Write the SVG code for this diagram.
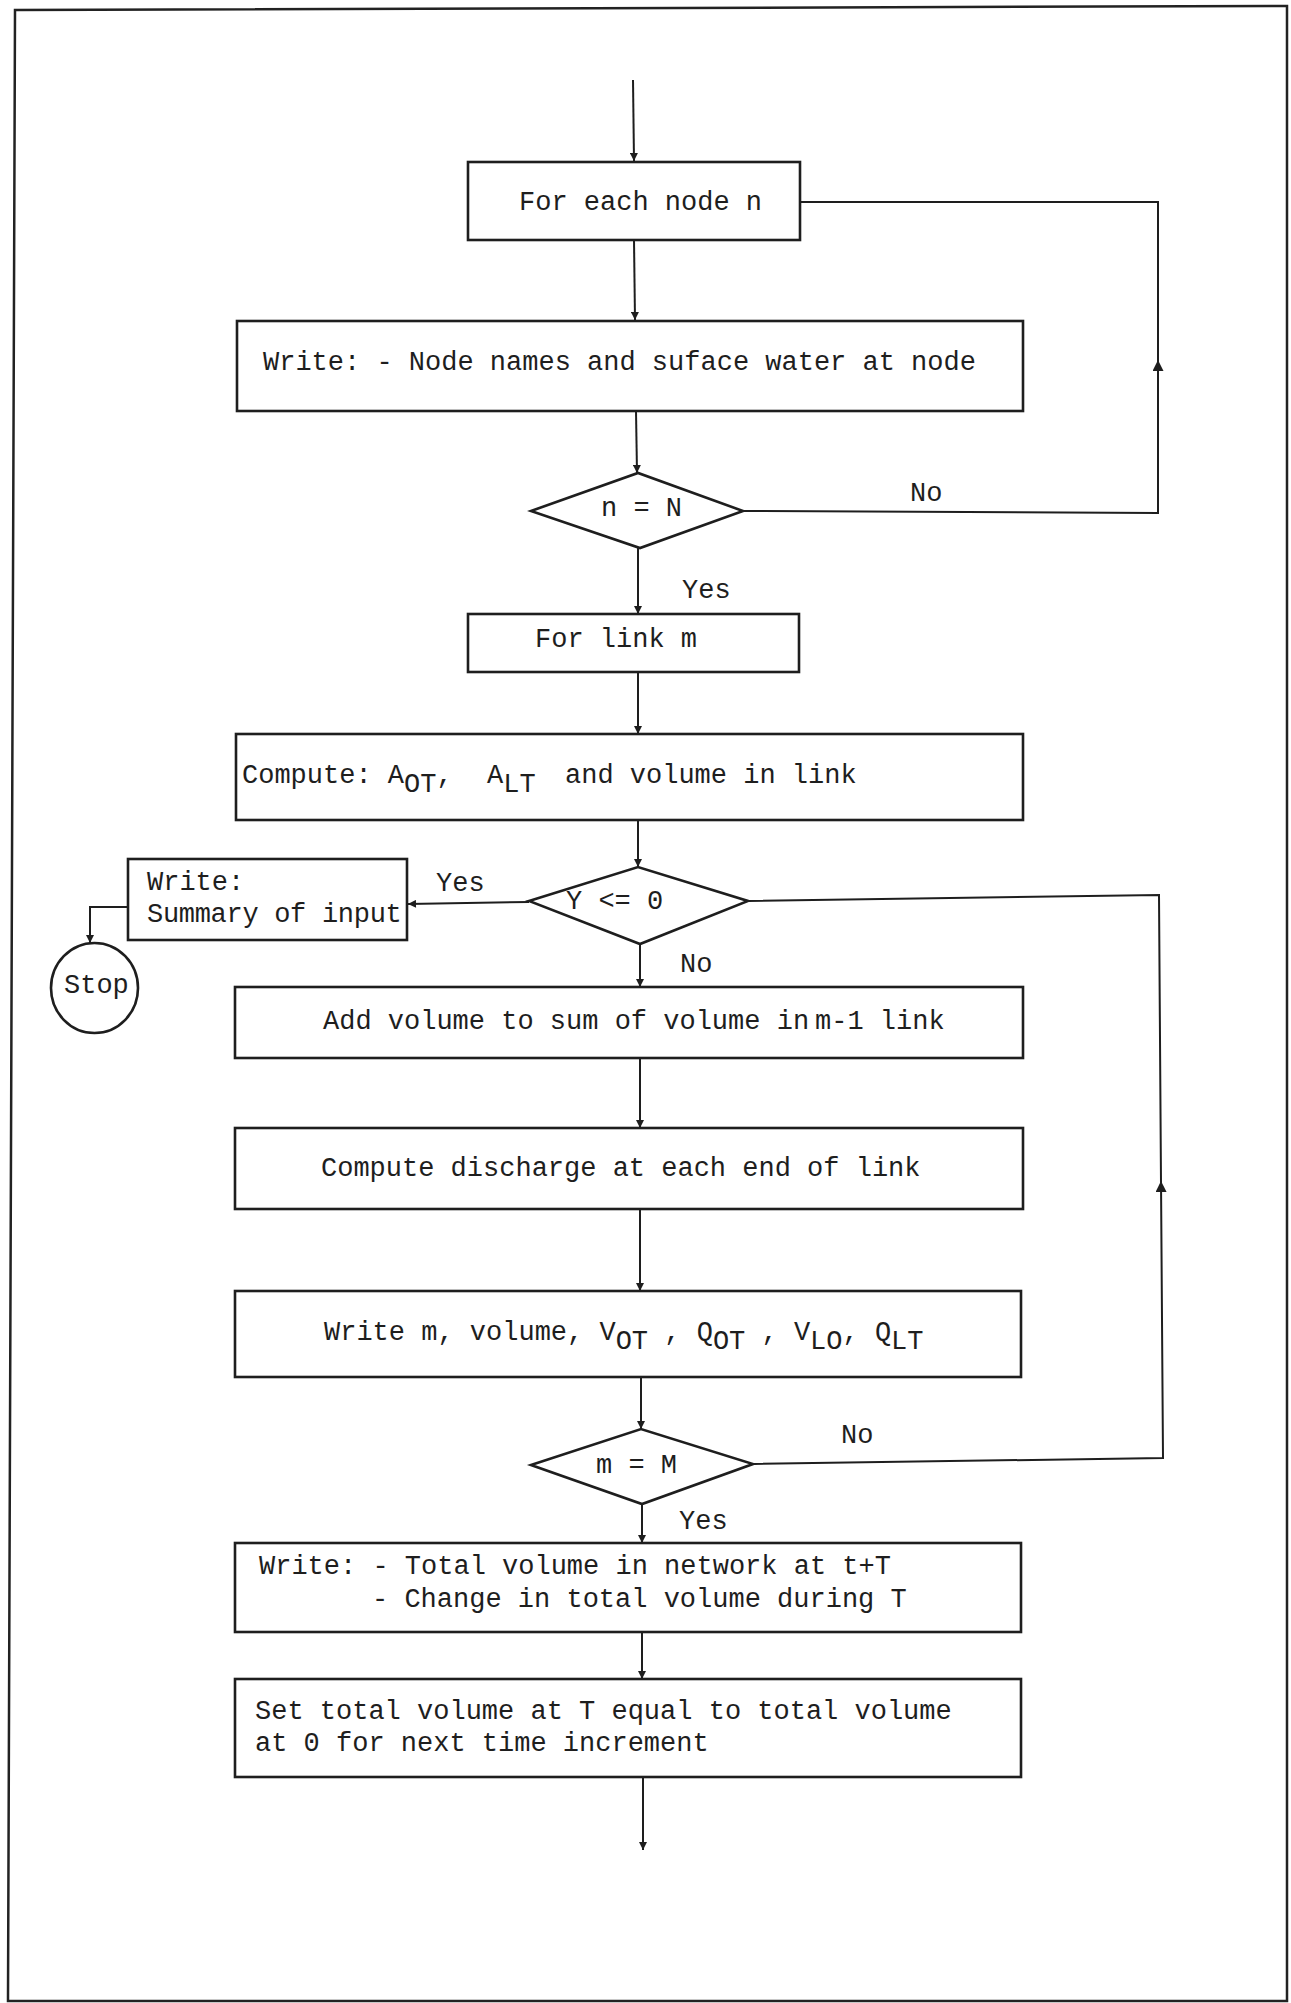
<svg xmlns="http://www.w3.org/2000/svg" width="1291" height="2003" viewBox="0 0 1291 2003">
  <style>
    .frame { fill: none; stroke: #222; stroke-width: 2.5; }
    .box { fill: none; stroke: #1e1e1e; stroke-width: 2.6; }
    .line { fill: none; stroke: #1e1e1e; stroke-width: 2; }
    .txt { font-family: "Liberation Mono", "DejaVu Sans Mono", monospace; font-size: 27px; fill: #1e1e1e; }
  </style>
  <defs>
    <marker id="ah" viewBox="0 0 10 10" refX="10" refY="5" markerUnits="userSpaceOnUse" markerWidth="11" markerHeight="8" orient="auto">
      <path d="M0,0 L10,5 L0,10 z" fill="#1e1e1e"/>
    </marker>
    <marker id="ahBig" viewBox="0 0 10 10" refX="10" refY="5" markerUnits="userSpaceOnUse" markerWidth="18" markerHeight="11" orient="auto">
      <path d="M0,0 L10,5 L0,10 z" fill="#1e1e1e"/>
    </marker>
  </defs>

  <rect width="1291" height="2003" fill="#ffffff"/>

  <!-- page frame -->
  <path class="frame" d="M15,10 L1287,6 L1287,2001 L8,2001 Z"/>

  <!-- connectors -->
  <g id="connectors">
    <path class="line" d="M633,80 L634,161" marker-end="url(#ah)"/>
    <path class="line" d="M634,240 L635,320" marker-end="url(#ah)"/>
    <path class="line" d="M636,411 L637,473" marker-end="url(#ah)"/>
    <path class="line" d="M638,548 L638,614" marker-end="url(#ah)"/>
    <path class="line" d="M638,672 L638,734" marker-end="url(#ah)"/>
    <path class="line" d="M638,820 L638,867" marker-end="url(#ah)"/>
    <path class="line" d="M640,944 L640,987" marker-end="url(#ah)"/>
    <path class="line" d="M640,1058 L640,1128" marker-end="url(#ah)"/>
    <path class="line" d="M640,1209 L640,1291" marker-end="url(#ah)"/>
    <path class="line" d="M641,1377 L641,1429" marker-end="url(#ah)"/>
    <path class="line" d="M642,1504 L642,1543" marker-end="url(#ah)"/>
    <path class="line" d="M642,1632 L642,1679" marker-end="url(#ah)"/>
    <path class="line" d="M643,1777 L643,1850" marker-end="url(#ah)"/>

    <!-- n = N : No loop back to "For each node n" -->
    <path class="line" d="M743,511 L1158,513 L1158,360" marker-end="url(#ahBig)"/>
    <path class="line" d="M1158,362 L1158,202 L800,202"/>

    <!-- Y <= 0 : Yes branch to summary and stop -->
    <path class="line" d="M529,902 L408,904" marker-end="url(#ah)"/>
    <path class="line" d="M128,907 L90,907 L90,943" marker-end="url(#ah)"/>

    <!-- m = M : No loop back up -->
    <path class="line" d="M753,1464 L1163,1458 L1161,1181" marker-end="url(#ahBig)"/>
    <path class="line" d="M1161,1183 L1159,895 L748,901"/>
  </g>

  <!-- nodes -->
  <g id="node-each-node">
    <rect class="box" x="468" y="162" width="332" height="78"/>
    <text class="txt" x="519" y="210">For each node n</text>
  </g>

  <g id="node-write-nodes">
    <rect class="box" x="237" y="321" width="786" height="90"/>
    <text class="txt" x="263" y="370">Write: - Node names and suface water at node</text>
  </g>

  <g id="node-n-eq-N">
    <polygon class="box" points="531,511 638,473 743,511 640,548"/>
    <text class="txt" x="601" y="516">n = N</text>
    <text class="txt" x="910" y="501">No</text>
    <text class="txt" x="682" y="598">Yes</text>
  </g>

  <g id="node-link-m">
    <rect class="box" x="468" y="614" width="331" height="58"/>
    <text class="txt" x="535" y="647">For link m</text>
  </g>

  <g id="node-compute-area">
    <rect class="box" x="236" y="734" width="787" height="86"/>
    <text class="txt" x="242" y="783">Compute: A<tspan dy="9">OT</tspan><tspan dy="-9">,</tspan></text>
    <text class="txt" x="487" y="783">A<tspan dy="9">LT</tspan></text>
    <text class="txt" x="565" y="783">and volume in link</text>
  </g>

  <g id="node-y-le-0">
    <polygon class="box" points="529,901 638,867 748,901 640,944"/>
    <text class="txt" x="566" y="909">Y &lt;= 0</text>
    <text class="txt" x="436" y="891">Yes</text>
    <text class="txt" x="680" y="972">No</text>
  </g>

  <g id="node-summary">
    <rect class="box" x="128" y="859" width="279" height="81"/>
    <text class="txt" x="147" y="890">Write:</text>
    <text class="txt" x="147" y="922" letter-spacing="-0.3">Summary of input</text>
  </g>

  <g id="node-stop">
    <ellipse class="box" cx="94.5" cy="988" rx="43.5" ry="45"/>
    <text class="txt" x="64" y="993">Stop</text>
  </g>

  <g id="node-add-volume">
    <rect class="box" x="235" y="987" width="788" height="71"/>
    <text class="txt" x="323" y="1029">Add volume to sum of volume in</text>
    <text class="txt" x="815" y="1029">m-1 link</text>
  </g>

  <g id="node-discharge">
    <rect class="box" x="235" y="1128" width="788" height="81"/>
    <text class="txt" x="321" y="1176">Compute discharge at each end of link</text>
  </g>

  <g id="node-write-link">
    <rect class="box" x="235" y="1291" width="786" height="86"/>
    <text class="txt" x="324" y="1340">Write m, volume, V<tspan dy="9">OT</tspan><tspan dy="-9"> , Q</tspan><tspan dy="9">OT</tspan><tspan dy="-9"> , V</tspan><tspan dy="9">LO</tspan><tspan dy="-9">, Q</tspan><tspan dy="9">LT</tspan></text>
  </g>

  <g id="node-m-eq-M">
    <polygon class="box" points="531,1465 641,1429 753,1464 642,1504"/>
    <text class="txt" x="596" y="1473">m = M</text>
    <text class="txt" x="841" y="1443">No</text>
    <text class="txt" x="679" y="1529">Yes</text>
  </g>

  <g id="node-write-total">
    <rect class="box" x="235" y="1543" width="786" height="89"/>
    <text class="txt" x="259" y="1574">Write: - Total volume in network at t+T</text>
    <text class="txt" x="372" y="1607">- Change in total volume during T</text>
  </g>

  <g id="node-set-total">
    <rect class="box" x="235" y="1679" width="786" height="98"/>
    <text class="txt" x="255" y="1719">Set total volume at T equal to total volume</text>
    <text class="txt" x="255" y="1751">at 0 for next time increment</text>
  </g>
</svg>
